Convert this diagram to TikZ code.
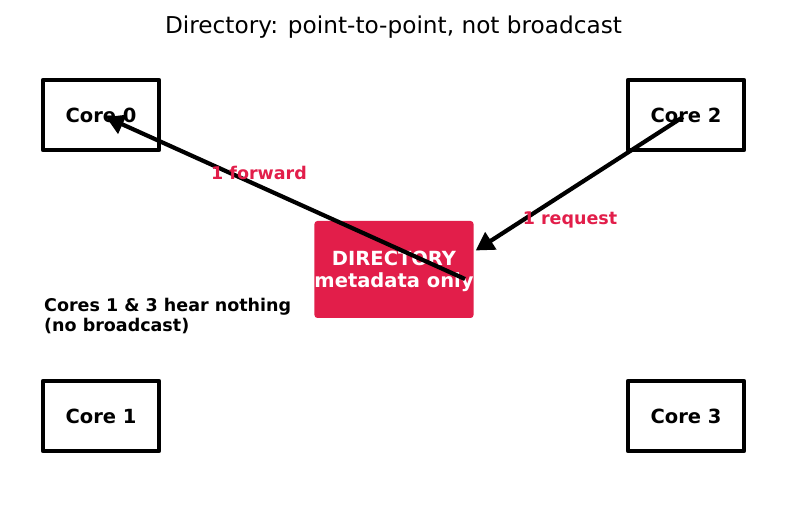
\documentclass[tikz,border=0pt]{standalone}
\usepackage{fontspec}
\setmainfont{DejaVu Sans}
\usetikzlibrary{arrows.meta}
\usetikzlibrary{calc}
\definecolor{dirred}{RGB}{226,30,74}

\tikzset{
  corebox/.style={draw, line width=4.5pt, line join=round, minimum width=116pt, minimum height=70pt, inner sep=0pt, font=\bfseries\fontsize{19.5}{22}\selectfont},
  dirbox/.style={fill=dirred, rounded corners=3pt, minimum width=158pt, minimum height=97pt, inner sep=0pt, text depth=0pt, text=white, align=center, font=\bfseries\fontsize{19.5}{22}\selectfont},
  msg/.style={text=dirred, font=\bfseries\fontsize{17.5}{20}\selectfont},
  msgarrow/.style={line width=4.2pt, -{Triangle[length=18pt, width=20pt]}}
}

\begin{document}
\begin{tikzpicture}[x=1pt, y=-1pt]
    \useasboundingbox (0,0) rectangle (787,510);

    \node[font=\fontsize{23.2}{26}\selectfont] (title) at (393.5,27) {Directory: point-to-point, not broadcast};

    \node[corebox] (core0) at (101,115) {Core 0};
    \node[corebox] (core2) at (686,115) {Core 2};
    \node[corebox] (core1) at (101,416) {Core 1};
    \node[corebox] (core3) at (686,416) {Core 3};

    \node[dirbox] (dir) at (394,269.5) {DIRECTORY\\metadata only};

    \node[anchor=west, align=left, inner sep=0pt, font=\bfseries\fontsize{17.5}{20}\selectfont] (quiet) at (44,316) {Cores 1 \& 3 hear nothing\\(no broadcast)};

    \coordinate (fwdstart) at ($(dir.center)+(71,9.5)$);
    \coordinate (fwdend) at ($(core0.center)+(5,2)$);
    \coordinate (reqstart) at ($(core2.center)+(-3,2)$);
    \coordinate (reqend) at ($(dir.east)+(2,-19)$);

    \draw[msgarrow] (fwdstart) -- (fwdend);
    \draw[msgarrow] (reqstart) -- (reqend);

    \node[msg] (fwdlabel) at (259,173) {1 forward};
    \node[msg] (reqlabel) at (570,220) {1 request};
  \end{tikzpicture}
\end{document}
